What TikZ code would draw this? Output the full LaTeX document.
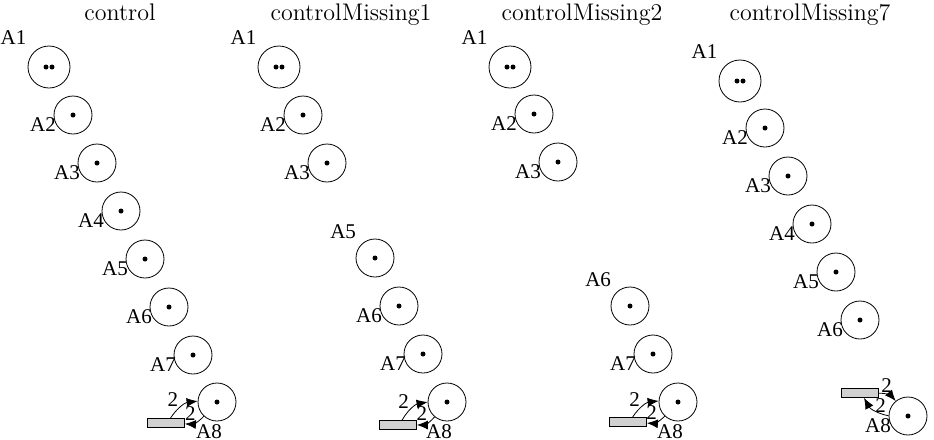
\documentclass[tikz,border=0pt]{standalone}
\usepackage{fontspec}
\newfontfamily\lblfont{Liberation Serif}
\usetikzlibrary{arrows.meta}

\begin{document}
\begin{tikzpicture}[x=0.5pt, y=-0.5pt,
  place/.style={draw, circle, minimum size=19pt, inner sep=0pt},
  bigplace/.style={place, minimum size=21pt},
  trans/.style={draw, fill=black!18, minimum width=18.5pt, minimum height=4.5pt, inner sep=0pt},
  lbl/.style={font=\lblfont\fontsize{10.5}{12}\selectfont, inner sep=0pt},
  side/.style={lbl, anchor=east},
  top/.style={lbl, anchor=south east, label distance=5pt},
  top2/.style={lbl, anchor=south east, label distance=3.5pt},
  bottom/.style={lbl, anchor=north, label distance=2pt},
  title/.style={font=\large, anchor=base},
  arc/.style={-{Latex[length=5.5pt, width=4.5pt]}},
  wt/.style={font=\lblfont\fontsize{10.5}{12}\selectfont, inner sep=0.5pt}
]
\useasboundingbox (0,0) rectangle (934,440);

% titles
\node[title] (ctl) at (120,20) {control};
\node[title] (m1) at (351,20) {controlMissing1};
\node[title] (m2) at (582,20) {controlMissing2};
\node[title] (m7) at (810,20) {controlMissing7};

% control
\node[bigplace, label={[top]135:A1}] (ctlA1) at (49,67) {};
\node[place, label={[side]210:A2}] (ctlA2) at (73,115) {};
\node[place, label={[side]210:A3}] (ctlA3) at (97,163) {};
\node[place, label={[side]210:A4}] (ctlA4) at (121,211) {};
\node[place, label={[side]210:A5}] (ctlA5) at (145,259) {};
\node[place, label={[side]210:A6}] (ctlA6) at (169,307) {};
\node[place, label={[side]210:A7}] (ctlA7) at (193,355) {};
\node[place, label={[bottom]250:A8}] (ctlA8) at (217,402) {};
\node[trans] (ctlT) at (166,423) {};

% controlMissing1
\node[bigplace, label={[top]135:A1}] (m1A1) at (279,67) {};
\node[place, label={[side]210:A2}] (m1A2) at (303,115) {};
\node[place, label={[side]210:A3}] (m1A3) at (327,163) {};
\node[place, label={[top2]135:A5}] (m1A5) at (375,258) {};
\node[place, label={[side]210:A6}] (m1A6) at (399,306) {};
\node[place, label={[side]210:A7}] (m1A7) at (423,354) {};
\node[place, label={[bottom]250:A8}] (m1A8) at (447,402) {};
\node[trans] (m1T) at (398,425) {};

% controlMissing2
\node[bigplace, label={[top]135:A1}] (m2A1) at (510,67) {};
\node[place, label={[side]210:A2}] (m2A2) at (534,114) {};
\node[place, label={[side]210:A3}] (m2A3) at (558,162) {};
\node[place, label={[top2]135:A6}] (m2A6) at (630,306) {};
\node[place, label={[side]210:A7}] (m2A7) at (653,354) {};
\node[place, label={[bottom]250:A8}] (m2A8) at (678,402) {};
\node[trans] (m2T) at (628,422) {};

% controlMissing7
\node[bigplace, label={[top]135:A1}] (m7A1) at (740,81) {};
\node[place, label={[side]210:A2}] (m7A2) at (765,128) {};
\node[place, label={[side]210:A3}] (m7A3) at (788,176) {};
\node[place, label={[side]210:A4}] (m7A4) at (812,224) {};
\node[place, label={[side]210:A5}] (m7A5) at (836,272) {};
\node[place, label={[side]210:A6}] (m7A6) at (860,320) {};
\node[place, label={[side]210:A8}] (m7A8) at (908,416) {};
\node[trans] (m7T) at (860,393) {};

% tokens
\foreach \p in {ctlA1, m1A1, m2A1, m7A1} {
  \fill ([xshift=-1.5pt]\p.center) circle (1.25pt);
  \fill ([xshift=1.5pt]\p.center) circle (1.25pt);
}
\foreach \p in {ctlA2, ctlA3, ctlA4, ctlA5, ctlA6, ctlA7, ctlA8,
                m1A2, m1A3, m1A5, m1A6, m1A7, m1A8,
                m2A2, m2A3, m2A6, m2A7, m2A8,
                m7A2, m7A3, m7A4, m7A5, m7A6, m7A8}
  \fill (\p.center) circle (1.25pt);

% arcs
\draw[arc] (ctlT) to[bend left=25] node[wt, pos=0.4, above left]{2} (ctlA8);
\draw[arc] (ctlA8) to[bend left=25] node[wt, pos=0.4, above left]{2} (ctlT);
\draw[arc] (m1T) to[bend left=25] node[wt, pos=0.4, above left]{2} (m1A8);
\draw[arc] (m1A8) to[bend left=25] node[wt, pos=0.4, above left]{2} (m1T);
\draw[arc] (m2T) to[bend left=25] node[wt, pos=0.4, above left]{2} (m2A8);
\draw[arc] (m2A8) to[bend left=25] node[wt, pos=0.4, above left]{2} (m2T);
\draw[arc] (m7T) to[bend left=25] node[wt, pos=0.4, above]{2} (m7A8);
\draw[arc] (m7A8) to[bend left=25] node[wt, pos=0.25, above]{2} (m7T);
\end{tikzpicture}
\end{document}
